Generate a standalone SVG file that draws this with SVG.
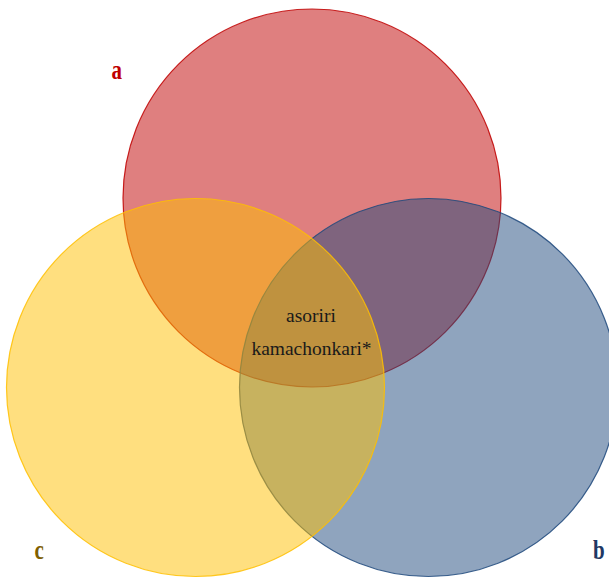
<svg xmlns="http://www.w3.org/2000/svg" width="609" height="579" viewBox="0 0 609 579">
  <style>
    .set { stroke-width: 1.2; stroke-opacity: 0.85; }
    .set-a { fill: #C00000; fill-opacity: 0.5; stroke: #C00000; }
    .set-b { fill: #1F497D; fill-opacity: 0.5; stroke: #1F497D; }
    .set-c { fill: #FFC000; fill-opacity: 0.5; stroke: #FFC000; }
    .tag { font-family: "Liberation Serif", "Times New Roman", serif; font-weight: bold; font-size: 21px; }
    .item { font-family: "Liberation Serif", "Times New Roman", serif; font-size: 19.5px; fill: #1a1a1a; text-anchor: middle; }
  </style>
  <rect width="609" height="579" fill="#ffffff"/>

  <!-- set a (top) -->
  <g id="set-a">
    <circle class="set set-a" cx="312" cy="198" r="189"/>
  </g>
  <!-- set b (bottom right) -->
  <g id="set-b">
    <circle class="set set-b" cx="428.5" cy="387.5" r="189"/>
  </g>
  <!-- set c (bottom left) -->
  <g id="set-c">
    <circle class="set set-c" cx="195.5" cy="387.5" r="189"/>
  </g>

  <!-- set labels -->
  <g id="label-a">
    <text class="tag" fill="#C00000" transform="translate(111.5 78.5) scale(1 1.35)">a</text>
  </g>
  <g id="label-c">
    <text class="tag" fill="#7F6000" transform="translate(34.5 559) scale(1 1.35)">c</text>
  </g>
  <g id="label-b">
    <text class="tag" fill="#1F3864" transform="translate(593 559) scale(1 1.35)">b</text>
  </g>

  <!-- shared members of a, b and c -->
  <g id="intersection-abc">
    <text class="item" x="311" y="321.5">asoriri</text>
    <text class="item" x="311.5" y="355">kamachonkari*</text>
  </g>
</svg>
